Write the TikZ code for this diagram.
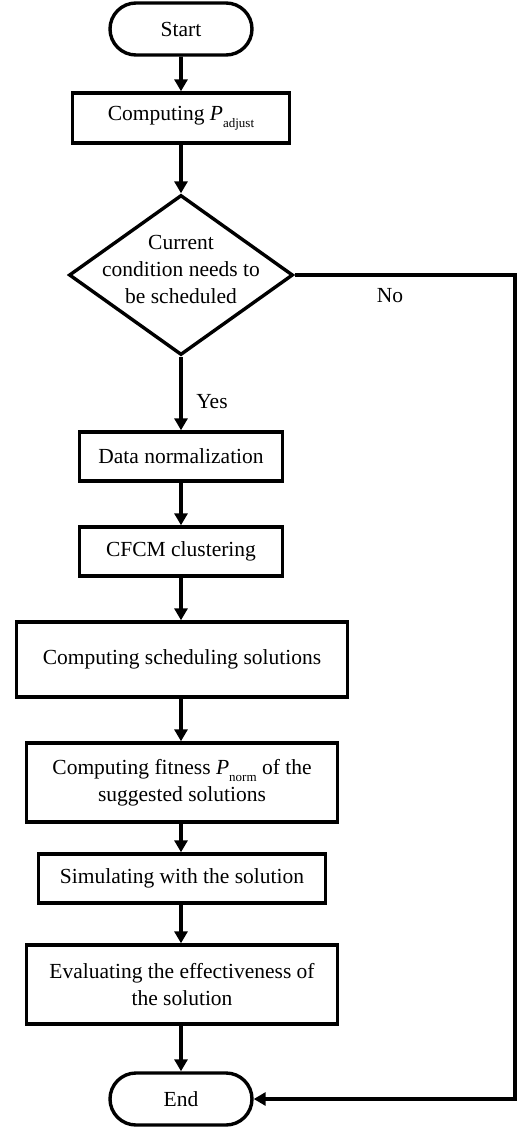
\documentclass[tikz,border=0pt]{standalone}
\usepackage{fontspec}
\setmainfont{Liberation Serif}
\usetikzlibrary{shapes.geometric,shapes.misc,arrows.meta}
\newcommand{\subtxt}[1]{\raisebox{-0.7ex}{\fontsize{13pt}{14pt}\selectfont #1}}
\begin{document}
\begin{tikzpicture}[x=1pt,y=1pt,
  font=\fontsize{21.5pt}{27pt}\selectfont,
  procbox/.style={draw, line width=3.4pt, rectangle, align=center, inner sep=0pt},
  termbox/.style={draw, line width=3.4pt, rounded rectangle, minimum width=142pt, minimum height=52pt, inner sep=0pt},
  flow/.style={line width=3.6pt, -{Triangle[length=12pt,width=13pt]}},
]
\useasboundingbox (0,0) rectangle (519,-1127);
\node[termbox] (start) at (181,-29) {Start};
\node[procbox, minimum width=217pt, minimum height=50pt] (padj) at (181,-118) {Computing \textit{P}\subtxt{adjust}};
\node[draw, line width=3.4pt, diamond, minimum width=224pt, minimum height=160pt, inner sep=0pt] (dec) at (181,-275) {};
\node[align=center, inner sep=0pt] (dectext) at (181,-269) {Current\\condition needs to\\be scheduled};
\node[procbox, minimum width=203pt, minimum height=49pt] (dn) at (181,-456.5) {Data normalization};
\node[procbox, minimum width=203pt, minimum height=49pt] (cfcm) at (181,-551.5) {CFCM clustering};
\node[procbox, minimum width=331pt, minimum height=75pt] (sched) at (182,-659.5) {Computing scheduling solutions};
\node[procbox, minimum width=311pt, minimum height=79pt] (fit) at (182,-782.5) {Computing fitness \textit{P}\subtxt{norm} of the\\suggested solutions};
\node[procbox, minimum width=287pt, minimum height=49pt] (sim) at (182,-878.5) {Simulating with the solution};
\node[procbox, minimum width=311pt, minimum height=79pt] (eval) at (182,-984.5) {Evaluating the effectiveness of\\the solution};
\node[termbox] (end) at (181,-1099) {End};
\coordinate (ctop) at (515,-275);
\coordinate (cbot) at (515,-1099);
\node (yes) at (212,-402) {Yes};
\node (no) at (390,-296) {No};
\draw[flow] (start) -- (padj);
\draw[flow] (padj) -- (dec);
\draw[flow] (dec) -- (dn);
\draw[flow] (dn) -- (cfcm);
\draw[flow] (cfcm) -- (cfcm |- sched.north);
\draw[flow] (cfcm |- sched.south) -- (cfcm |- fit.north);
\draw[flow] (cfcm |- fit.south) -- (cfcm |- sim.north);
\draw[flow] (cfcm |- sim.south) -- (cfcm |- eval.north);
\draw[flow] (cfcm |- eval.south) -- (end);
\draw[flow] (dec.east) -- (ctop) -- (cbot) -- (end.east);
\end{tikzpicture}
\end{document}
